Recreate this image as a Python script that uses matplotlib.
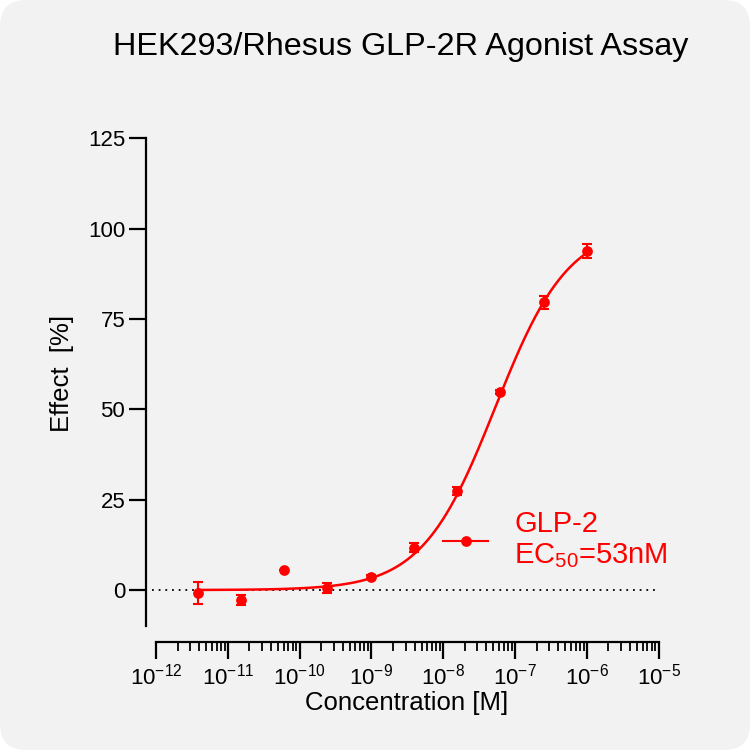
import numpy as np
import matplotlib
matplotlib.use("Agg")
import matplotlib.pyplot as plt
from matplotlib.patches import FancyBboxPatch
from matplotlib.ticker import LogLocator, FixedLocator
from matplotlib.lines import Line2D

plt.rcParams['font.family'] = ['Liberation Sans', 'DejaVu Sans']
plt.rcParams['mathtext.fontset'] = 'custom'
plt.rcParams['mathtext.rm'] = 'Liberation Sans'
plt.rcParams['mathtext.it'] = 'Liberation Sans:italic'
plt.rcParams['mathtext.bf'] = 'Liberation Sans:bold'

# ---- data ----
conc_M = [3.8e-12, 1.53e-11, 6.1e-11, 2.44e-10, 9.8e-10, 3.9e-9, 1.56e-8, 6.25e-8, 2.5e-7, 1.0e-6]
effect = [-0.9, -2.7, 5.45, 0.55, 3.6, 11.7, 27.4, 54.9, 79.7, 93.8]
effect_err = [3.0, 1.4, 0.0, 1.4, 0.5, 1.2, 1.1, 0.6, 1.8, 1.9]
# four-parameter logistic fit
fit_bottom = 0.0
fit_top = 101.0
fit_ec50 = 53e-9
fit_hill = 0.85
series_label = "GLP-2\nEC$_{50}$=53nM"
title = "HEK293/Rhesus GLP-2R Agonist Assay"
xlabel = "Concentration [M]"
ylabel = "Effect  [%]"
yticks = [0, 25, 50, 75, 100, 125]
xtick_exps = [-12, -11, -10, -9, -8, -7, -6, -5]

red = "#ff0000"

fig = plt.figure(figsize=(7.5, 7.5), dpi=100)
fig.patch.set_facecolor("white")
bg = FancyBboxPatch((0, 0), 1, 1, boxstyle="round,pad=0,rounding_size=0.035",
                    transform=fig.transFigure, facecolor="#f2f2f2",
                    edgecolor="none", zorder=-10)
fig.patches.append(bg)

L, R, T, B = 156, 658.6, 138.4, 626.2
ax = fig.add_axes([L/750, 1-B/750, (R-L)/750, (B-T)/750])
ax.set_facecolor("none")

ax.set_xscale("log")
ax.set_xlim(1e-12, 1e-5)
ax.set_ylim(-10, 125)

# baseline
ax.axhline(0, color="black", lw=1.3, ls=(0, (1, 2.7)), xmin=-0.008, xmax=1.0,
           clip_on=False, zorder=1)

# fit curve
xc = np.logspace(np.log10(conc_M[0]), np.log10(conc_M[-1]), 400)
yc = fit_bottom + (fit_top - fit_bottom) / (1 + (fit_ec50 / xc) ** fit_hill)
ax.plot(xc, yc, color=red, lw=1.8, zorder=3)

ax.errorbar(conc_M, effect, yerr=effect_err, fmt="none", ecolor=red,
            elinewidth=1.5, capsize=3.3, capthick=1.5, zorder=4)
ax.plot(conc_M, effect, "o", color=red, ms=6.7, zorder=5)

# legend
h = Line2D([], [], color=red, lw=1.5, marker="o", ms=6.7)
leg = ax.legend([h], [series_label], frameon=False, loc="center left",
                bbox_to_anchor=(443/750, 1-540/750), bbox_transform=fig.transFigure,
                borderpad=0, borderaxespad=0,
                handlelength=1.55, handletextpad=0.9, fontsize=21)
for t in leg.get_texts():
    t.set_color(red)
    t.set_linespacing(1.12)

# spines
for s in ["top", "right"]:
    ax.spines[s].set_visible(False)
ax.spines["left"].set_position(("outward", 7.2))
ax.spines["bottom"].set_position(("outward", 11.6))
ax.spines["left"].set_linewidth(1.6)
ax.spines["bottom"].set_linewidth(1.6)

ax.set_yticks(yticks)
ax.set_yticklabels([str(v) for v in yticks])
ax.xaxis.set_major_locator(FixedLocator([10.0**e for e in xtick_exps]))
ax.set_xticklabels([r"$10^{%d}$" % e for e in xtick_exps])
ax.xaxis.set_minor_locator(LogLocator(base=10, subs=np.arange(2, 10), numticks=20))
ax.xaxis.set_minor_formatter(plt.NullFormatter())

ax.tick_params(axis="both", which="major", length=12, width=1.6, labelsize=16, color="black")
ax.tick_params(axis="x", which="minor", length=6.3, width=1.3)
ax.tick_params(axis="y", pad=3)
ax.tick_params(axis="x", pad=3)

ax.set_xlabel(xlabel, fontsize=18.5)
ax.xaxis.set_label_coords(407/750, 1-703/750, transform=fig.transFigure)
ax.xaxis.label.set_va("center")
ax.set_ylabel(ylabel, fontsize=18.5)
ax.yaxis.set_label_coords(62/750, 1-373/750, transform=fig.transFigure)
ax.yaxis.label.set_va("center")

fig.text(401/750, 1-47/750, title, ha="center", va="center", fontsize=23.3)

fig.savefig("out.png", dpi=100, facecolor=fig.get_facecolor())
